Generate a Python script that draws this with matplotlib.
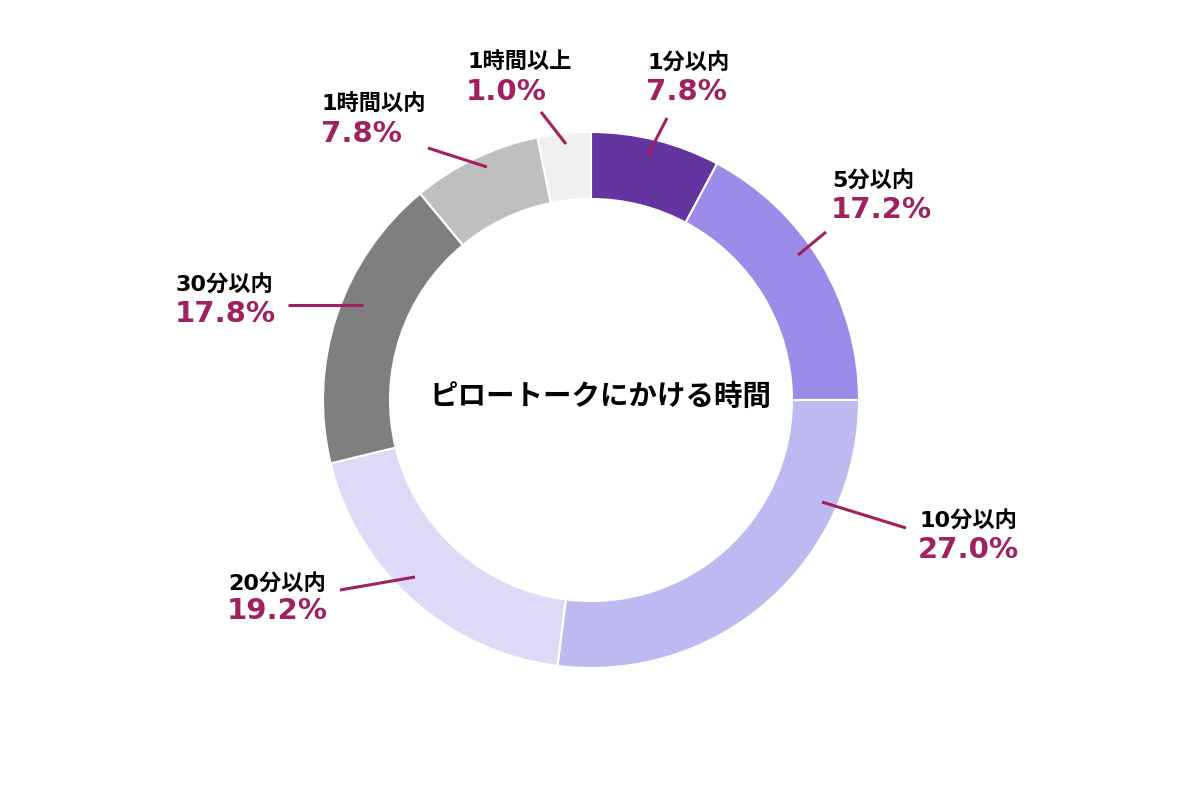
import matplotlib
matplotlib.use("Agg")
import matplotlib.pyplot as plt

# データ（ラベル・表示値・円グラフ上の扇形の大きさ）
categories = ["1分以内", "5分以内", "10分以内", "20分以内", "30分以内", "1時間以内", "1時間以上"]
pct_values = [7.8, 17.2, 27.0, 19.2, 17.8, 7.8, 1.0]
# 図中の扇形の大きさ（最後の区分は残り部分として描かれている）
wedge_sizes = [7.8, 17.2, 27.0, 19.2, 17.8, 7.8, 3.2]
colors = ["#6434A0", "#9C8BE8", "#BDB9F1", "#DDDAF7", "#7F7F7F", "#BFBFBF", "#F0F0F0"]

title = "ピロートークにかける時間"
pct_color = "#A0215F"

# ラベルの配置（ピクセル座標: 左端x, 名前y, 数値y）と引き出し線
label_pos = [(647, 62, 92), (832, 180, 210), (919, 520, 550), (228, 583, 611),
             (176, 284, 314), (322, 104, 134), (467, 62, 92)]
leader_lines = [((667, 118), (648, 155)), ((826, 232), (798, 255)), ((906, 528), (822, 502)),
                ((340, 590), (415, 577)), ((288, 305), (363, 305)), ((428, 148), (487, 167)),
                ((541, 112), (566, 144))]

W, H = 1200, 800
fig = plt.figure(figsize=(12, 8), dpi=100)
ax = fig.add_axes([0, 0, 1, 1])
ax.set_xlim(0, W)
ax.set_ylim(0, H)
ax.set_aspect("equal")
ax.axis("off")


def px(x, y):
    # 画像のピクセル座標をデータ座標に変換
    return x, H - y


cx, cy = px(591, 400)
ax.pie(wedge_sizes, colors=colors, startangle=90, counterclock=False,
       center=(cx, cy), radius=268, frame=True,
       wedgeprops=dict(width=67, edgecolor="white", linewidth=1.5))
ax.set_xlim(0, W)
ax.set_ylim(0, H)
ax.axis("off")

fam = ["DejaVu Sans", "Noto Sans CJK JP"]
for name, val, (lx, ny, py), (p0, p1) in zip(categories, pct_values, label_pos, leader_lines):
    ax.text(*px(lx, ny), name, ha="left", va="center", fontsize=16,
            fontweight="bold", family=fam, color="black")
    ax.text(*px(lx - 1, py), f"{val:.1f}%", ha="left", va="center", fontsize=21,
            fontweight="bold", family=fam, color=pct_color)
    (x0, y0), (x1, y1) = px(*p0), px(*p1)
    ax.plot([x0, x1], [y0, y1], color=pct_color, lw=2.2, solid_capstyle="butt")

ax.text(cx + 10, cy + 3, title, ha="center", va="center", fontsize=20.5,
        fontweight="bold", family=["Noto Sans CJK JP", "DejaVu Sans"])

fig.savefig("out.png", dpi=100, facecolor="white")
